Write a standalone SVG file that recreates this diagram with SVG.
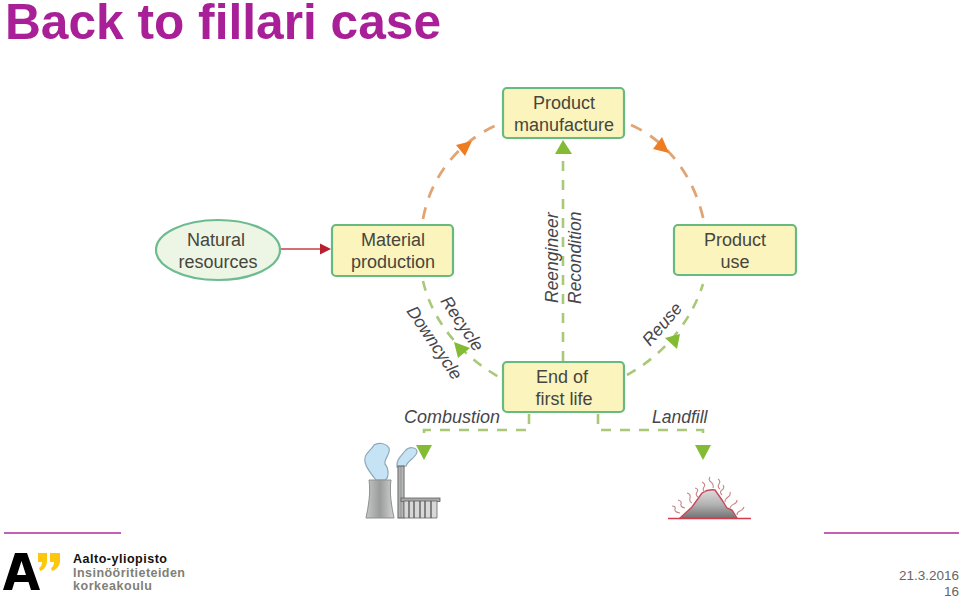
<svg xmlns="http://www.w3.org/2000/svg" width="960" height="599" viewBox="0 0 960 599">
<defs>
<linearGradient id="gy" x1="0" x2="1" y1="0" y2="0"><stop offset="0" stop-color="#c6c8c8"/><stop offset="0.5" stop-color="#9a9c9c"/><stop offset="1" stop-color="#d2d4d4"/></linearGradient>
<linearGradient id="ld" x1="0" x2="0" y1="0" y2="1"><stop offset="0" stop-color="#dcdcdc"/><stop offset="0.5" stop-color="#b4b4b4"/><stop offset="1" stop-color="#747474"/></linearGradient>
</defs>
<style>
text{font-family:"Liberation Sans",Arial,sans-serif}
.nt{font-size:18px;fill:#46463e;text-anchor:middle}
.lb{font-size:17.500px;fill:#46464a;font-style:italic}
.box{fill:#fbf4bd;stroke:#66b97f;stroke-width:2.200}
.g{fill:none;stroke:#a9c878;stroke-width:2.600;stroke-dasharray:10 9}
.o{fill:none;stroke:#e2a473;stroke-width:2.800;stroke-dasharray:12 10}
.ga{fill:#84bb35}.oa{fill:#ee7d22}
.smoke{fill:#c5e3f4;stroke:#8fa9b8;stroke-width:1.200}
.st{fill:none;stroke:#c98585;stroke-width:1.100}
</style>
<text x="5" y="39" font-size="50" font-weight="700" fill="#a81f98" textLength="436" lengthAdjust="spacingAndGlyphs">Back to fillari case</text>

<g id="connectors">
<path class="o" d="M423 219C430 180 455 143 499 124"/>
<path class="o" d="M631 125C668 141 695 178 704 222"/>
<path class="oa" d="M472 141L456 145L465 156Z"/>
<path class="oa" d="M662 137L653 149L669 153Z"/>
<line x1="278" y1="249" x2="322" y2="249" stroke="#c8404a" stroke-width="1.500"/>
<path d="M331 249L320 243.500V254.500Z" fill="#b81f30"/>
<path class="g" d="M563 361V152"/>
<path class="ga" d="M563 140L555 154H572Z"/>
<path class="g" d="M423 281C432 320 460 355 499 377"/>
<path class="ga" d="M470 348L454 342L458 358Z"/>
<path class="g" d="M627 375C660 357 690 325 703 284"/>
<path class="ga" d="M680 334L665 338L677 349Z"/>
<path class="g" d="M529 414V430H424V442"/>
<path class="ga" d="M424 460L416 445H432Z"/>
<path class="g" d="M598 414V430H703V442"/>
<path class="ga" d="M703 460L695 445H711Z"/>
</g>

<g id="natural-resources">
<ellipse cx="218" cy="250" rx="62" ry="30" fill="#edf5e4" stroke="#6dbb90" stroke-width="2.200"/>
<text class="nt" x="216" y="246">Natural</text><text class="nt" x="218" y="268">resources</text>
</g>
<g id="material-production">
<rect class="box" x="332" y="225" width="121" height="51" rx="4"/>
<text class="nt" x="393" y="246">Material</text><text class="nt" x="393" y="268">production</text>
</g>
<g id="product-manufacture">
<rect class="box" x="503" y="88" width="121" height="50" rx="4"/>
<text class="nt" x="564" y="109">Product</text><text class="nt" x="564" y="131">manufacture</text>
</g>
<g id="product-use">
<rect class="box" x="674" y="225" width="122" height="50" rx="4"/>
<text class="nt" x="735" y="246">Product</text><text class="nt" x="735" y="268">use</text>
</g>
<g id="end-of-first-life">
<rect class="box" x="503" y="362" width="121" height="50" rx="4"/>
<text class="nt" x="562" y="383">End of</text><text class="nt" x="564" y="405">first life</text>
</g>

<g id="labels">
<text class="lb" x="404" y="423" style="font-size:18px">Combustion</text>
<text class="lb" x="652" y="423">Landfill</text>
<text class="lb" transform="translate(558,303) rotate(-90)">Reengineer</text>
<text class="lb" transform="translate(581,304) rotate(-90)">Recondition</text>
<text class="lb" transform="translate(440,301) rotate(56)">Recycle</text>
<text class="lb" transform="translate(406,311) rotate(56)">Downcycle</text>
<text class="lb" transform="translate(650,347) rotate(-49)">Reuse</text>
</g>

<g id="combustion-plant">
<path class="smoke" d="M376 480C368 470 362 462 366 455C370 449 373 448 374 445C378 442 386 443 389 448C391 454 384 458 385 464C390 470 388 479 385 480Z"/>
<path class="smoke" d="M397 467C396 460 401 456 405 451C409 446 417 447 417 452C416 458 408 460 406 466Z"/>
<path d="M369 480H391C389 493 392 508 394 518H366C368 508 371 493 369 480Z" fill="url(#gy)" stroke="#8f8f8f" stroke-width="1"/>
<rect x="398" y="466" width="6" height="52" fill="url(#gy)" stroke="#5f5f5f" stroke-width="1"/>
<rect x="401" y="498" width="39" height="3.500" fill="#a8a8a8" stroke="#5f5f5f" stroke-width="0.800"/>
<path d="M404 501H437V518H404Z" fill="#d8d8d8" stroke="#666" stroke-width="0.800"/>
<path d="M409 501V518M414 501V518M420 501V518M425 501V518M431 501V518" stroke="#555" stroke-width="1.300" fill="none"/>
</g>

<g id="landfill">
<path d="M680 518L692 507L702 493Q708 489 715 490L722 500L727 508L732 510L737 518Z" fill="url(#ld)" stroke="#c8495a" stroke-width="1.400"/>
<line x1="668" y1="518.500" x2="751" y2="518.500" stroke="#d43b50" stroke-width="1.500"/>
<path class="st" d="M672 506q4 0 3 3t5 4M678 500q4 1 3 4t4 4M687 493q4 1 3 5t2 5M695 488q4 1 2 4t1 5M702 482q4 2 2 5t1 5M710 477q-2 3 1 5t2 6M718 479q3 2 1 5t1 5M723 485q2 3-1 5t0 5M730 492q1 3-2 5t-3 5M737 500q0 3-3 4t-4 4M744 507q-1 3-4 4t-3 4"/>
</g>

<g id="footer">
<line x1="4" y1="533" x2="121" y2="533" stroke="#b02a9c" stroke-width="1.500"/>
<line x1="824" y1="533" x2="959" y2="533" stroke="#b02a9c" stroke-width="1.500"/>
<path d="M3 590L15 553H27L40 590H31L28.500 582H14.500L12 590ZM17 575H26L21.500 561Z" fill="#000" fill-rule="evenodd"/>
<path d="M38 553H47V561C47 566 44 570 40 571L39 568C41 567 42 565 42 562H38ZM50 553H60V561C60 566 56 570 52 571L51 568C53 567 54 565 54 562H50Z" fill="#fdc70c"/>
<text x="73" y="562.500" font-size="12.500" font-weight="700" fill="#111" textLength="94">Aalto-yliopisto</text>
<text x="73" y="577" font-size="12.500" font-weight="700" fill="#7f7f78" textLength="112">Insinööritieteiden</text>
<text x="73" y="590" font-size="12.500" font-weight="700" fill="#7f7f78" textLength="79">korkeakoulu</text>
<text x="959" y="580" font-size="13.500" fill="#666" text-anchor="end">21.3.2016</text>
<text x="959" y="596" font-size="13.500" fill="#666" text-anchor="end">16</text>
</g>
</svg>
